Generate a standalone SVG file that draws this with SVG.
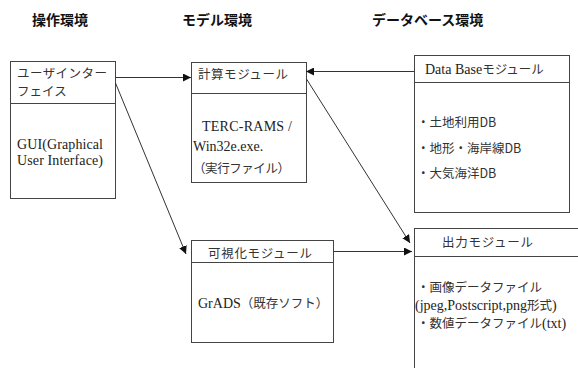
<svg xmlns="http://www.w3.org/2000/svg" width="578" height="368" viewBox="0 0 578 368">
<defs>
<style>
.box{fill:#fff;stroke:#444;stroke-width:1}
.div{stroke:#444;stroke-width:1}
.h{font-family:"Noto Sans CJK JP",sans-serif;font-weight:bold;font-size:14px;fill:#111}
.t{font-family:"Liberation Serif","Noto Sans CJK JP",serif;font-size:14px;fill:#222}
.j{font-family:"Noto Sans CJK JP",sans-serif;font-size:12.5px;fill:#333}
.c{stroke:#333;stroke-width:1;fill:none;marker-end:url(#ah)}
</style>
<marker id="ah" viewBox="0 0 10 10" refX="10" refY="5" markerWidth="8" markerHeight="8" markerUnits="userSpaceOnUse" orient="auto">
<path d="M0,0 L10,5 L0,10 z" fill="#111"/>
</marker>
</defs>
<rect width="578" height="368" fill="#fff"/>
<text class="h" x="32" y="25">操作環境</text>
<text class="h" x="182" y="25">モデル環境</text>
<text class="h" x="372" y="25">データベース環境</text>

<g id="ui">
<rect class="box" x="10.5" y="61.5" width="105" height="137"/>
<line class="div" x1="10.5" y1="103.5" x2="115.5" y2="103.5"/>
<text class="j" x="17" y="78" textLength="90">ユーザインター</text>
<text class="j" x="17" y="96">フェイス</text>
<text class="t" x="17" y="149" textLength="86">GUI(Graphical</text>
<text class="t" x="17" y="165" textLength="86">User Interface)</text>
</g>

<g id="calc">
<rect class="box" x="191.5" y="62.5" width="115" height="120"/>
<line class="div" x1="191.5" y1="93.5" x2="306.5" y2="93.5"/>
<text class="j" x="198" y="79" textLength="90">計算モジュール</text>
<text class="t" x="202" y="131" textLength="90">TERC-RAMS /</text>
<text class="t" x="193" y="151">Win32e.exe.</text>
<text class="j" x="193" y="173" textLength="97">（実行ファイル）</text>
</g>

<g id="db">
<rect class="box" x="414.5" y="55.5" width="155" height="157"/>
<line class="div" x1="414.5" y1="82.5" x2="569.5" y2="82.5"/>
<text class="t" x="425" y="74">Data Base<tspan class="j">モジュール</tspan></text>
<text class="j" x="417" y="127">・土地利用DB</text>
<text class="j" x="417" y="153">・地形・海岸線DB</text>
<text class="j" x="417" y="178">・大気海洋DB</text>
</g>

<g id="vis">
<rect class="box" x="191.5" y="240.5" width="142" height="102"/>
<line class="div" x1="191.5" y1="262.5" x2="333.5" y2="262.5"/>
<text class="j" x="208" y="258" textLength="104">可視化モジュール</text>
<text class="t" x="198" y="308">GrADS<tspan class="j">（既存ソフト）</tspan></text>
</g>

<g id="out">
<rect class="box" x="414.5" y="228.5" width="180" height="160"/>
<line class="div" x1="414.5" y1="256.5" x2="578" y2="256.5"/>
<text class="j" x="442" y="247" textLength="91">出力モジュール</text>
<text class="j" x="417" y="292">・画像データファイル</text>
<text class="t" x="415" y="310">(jpeg,Postscript,png<tspan class="j">形式</tspan>)</text>
<text class="j" x="417" y="328">・数値データファイル<tspan class="t">(txt)</tspan></text>
</g>

<g id="connectors">
<line class="c" x1="115.5" y1="77.5" x2="191" y2="77.5"/>
<line class="c" x1="414.5" y1="71.5" x2="306" y2="71.5"/>
<line class="c" x1="115.5" y1="83" x2="186" y2="254"/>
<line class="c" x1="306.5" y1="79" x2="410" y2="243"/>
<line class="c" x1="333.5" y1="251.5" x2="412" y2="251.5"/>
</g>
</svg>
